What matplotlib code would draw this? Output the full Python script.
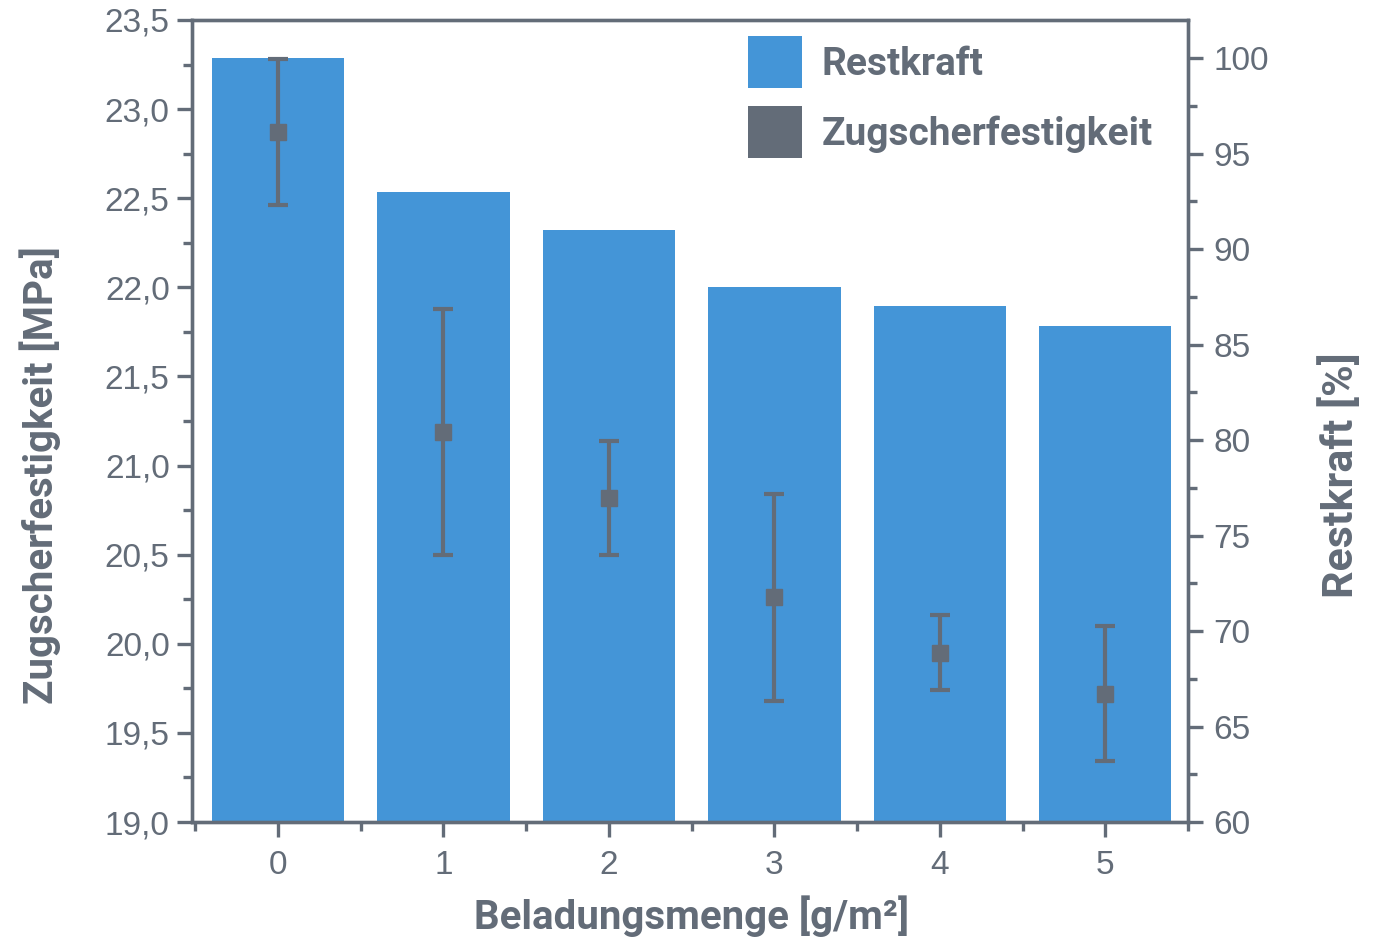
import matplotlib
matplotlib.use("Agg")
import matplotlib.pyplot as plt
from matplotlib.patches import Patch
from matplotlib.ticker import MultipleLocator, FuncFormatter

# Data
beladung = [0, 1, 2, 3, 4, 5]
restkraft = [100, 93, 91, 88, 87, 86]
zugscher = [22.87, 21.19, 20.82, 20.26, 19.95, 19.72]
zugscher_err = [0.41, 0.69, 0.32, 0.58, 0.21, 0.38]

gray = "#636c78"
blue = "#4495d7"

plt.rcParams["font.family"] = ["Liberation Sans", "DejaVu Sans"]

fig = plt.figure(figsize=(13.99, 9.51), dpi=100)
ax1 = fig.add_axes([0.1372, 0.1356, 0.712, 0.8434])
ax2 = ax1.twinx()

# Bars (right axis)
ax2.bar(beladung, restkraft, width=0.8, color=blue, zorder=2)
ax2.set_ylim(60, 102)
ax2.yaxis.set_major_locator(MultipleLocator(5))
ax2.yaxis.set_minor_locator(MultipleLocator(2.5))

# Points with error bars (left axis)
ax1.errorbar(beladung, zugscher, yerr=zugscher_err, fmt="s", color=gray,
             markersize=11, elinewidth=3, capsize=7, capthick=3, zorder=3)
ax1.set_ylim(19.0, 23.5)
ax1.set_xlim(-0.52, 5.5)
ax1.yaxis.set_major_locator(MultipleLocator(0.5))
ax1.yaxis.set_minor_locator(MultipleLocator(0.25))
ax1.yaxis.set_major_formatter(FuncFormatter(lambda v, p: f"{v:.1f}".replace(".", ",")))
ax1.xaxis.set_major_locator(MultipleLocator(1))
ax1.xaxis.set_minor_locator(MultipleLocator(0.5))

ax1.set_zorder(ax2.get_zorder() + 1)
ax1.patch.set_visible(False)

for ax in (ax1, ax2):
    for s in ax.spines.values():
        s.set_color(gray)
        s.set_linewidth(2.4)
    ax.tick_params(which="major", length=11, width=2.4, color=gray,
                   labelcolor=gray, labelsize=24, direction="out")
    ax.tick_params(which="minor", length=6.5, width=2.4, color=gray, direction="out")
ax1.tick_params(axis="x", pad=9)
ax1.tick_params(axis="y", pad=5)
ax2.tick_params(axis="y", pad=7)

label_font = dict(family=["Roboto", "DejaVu Sans"], weight="bold", size=29, color=gray)
ax1.set_xlabel("Beladungsmenge [g/m²]", **label_font)
ax1.set_ylabel("Zugscherfestigkeit [MPa]", **label_font)
ax2.set_ylabel("Restkraft [%]", size=31, family=["Roboto", "DejaVu Sans"],
               weight="bold", color=gray)
ax1.xaxis.set_label_coords(0.502, -0.092)
ax1.yaxis.set_label_coords(-0.131, 0.433)
ax2.yaxis.set_label_coords(1.132, 0.433)

handles = [Patch(facecolor=blue, edgecolor="none"),
           Patch(facecolor=gray, edgecolor="none")]
leg = ax1.legend(handles, ["Restkraft", "Zugscherfestigkeit"],
                 loc="upper right", bbox_to_anchor=(0.972, 0.99), frameon=False,
                 prop=dict(family=["Roboto", "DejaVu Sans"], weight="bold", size=28),
                 handlelength=1.38, handleheight=1.70, handletextpad=0.5,
                 labelspacing=0.45, borderaxespad=0.0, borderpad=0.2)
for t in leg.get_texts():
    t.set_color(gray)

fig.savefig("out.png", dpi=100)
